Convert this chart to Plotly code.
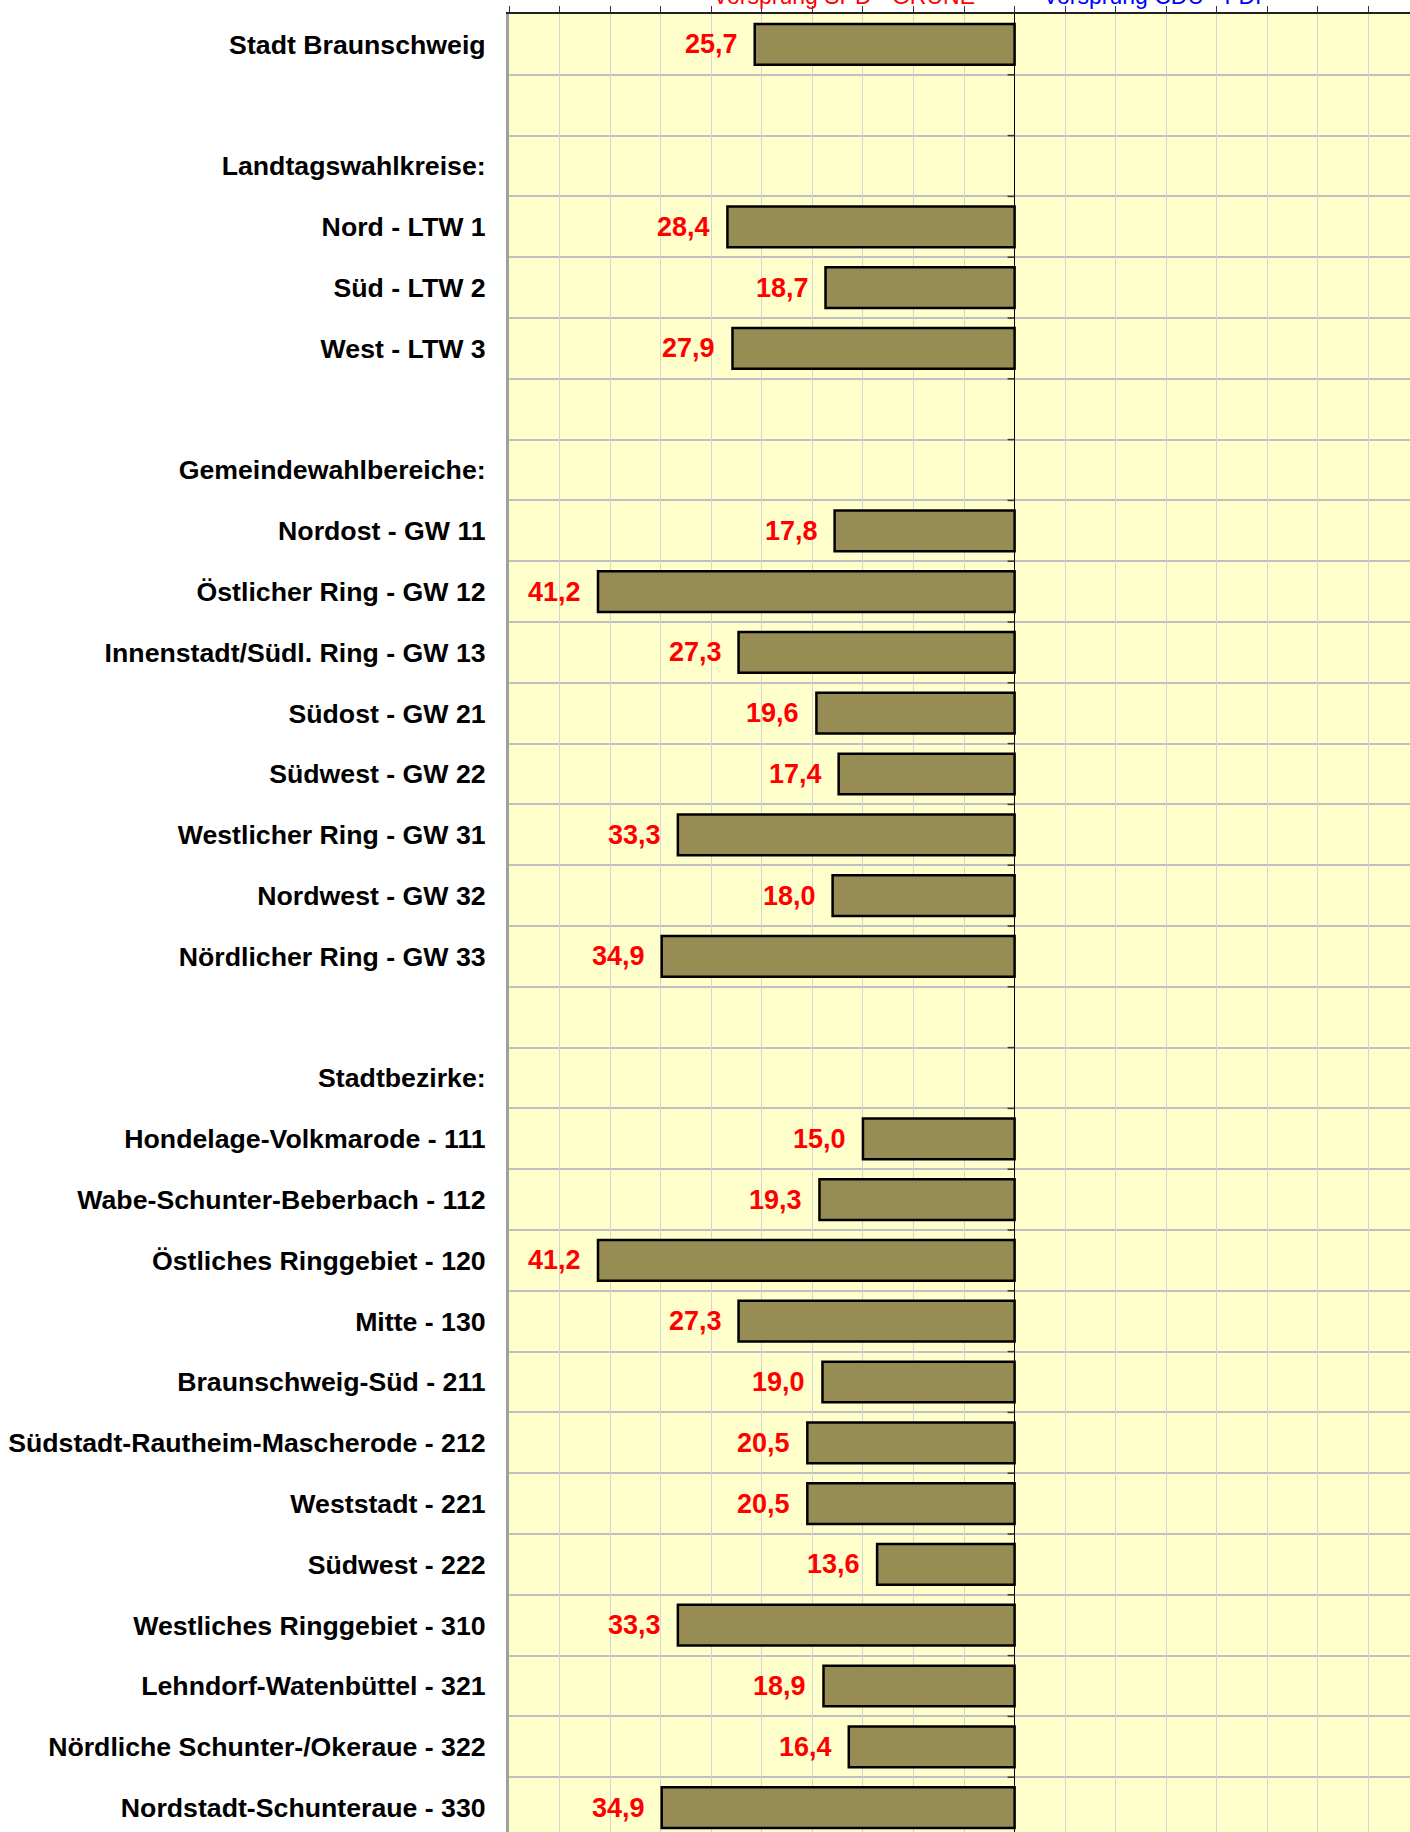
import plotly.graph_objects as go

# ---- data -------------------------------------------------------------
categories = [
    "Stadt Braunschweig", "", "Landtagswahlkreise:",
    "Nord - LTW 1", "Süd - LTW 2", "West - LTW 3", "",
    "Gemeindewahlbereiche:",
    "Nordost - GW 11", "Östlicher Ring - GW 12", "Innenstadt/Südl. Ring - GW 13",
    "Südost - GW 21", "Südwest - GW 22", "Westlicher Ring - GW 31",
    "Nordwest - GW 32", "Nördlicher Ring - GW 33", "",
    "Stadtbezirke:",
    "Hondelage-Volkmarode - 111", "Wabe-Schunter-Beberbach - 112",
    "Östliches Ringgebiet - 120", "Mitte - 130", "Braunschweig-Süd - 211",
    "Südstadt-Rautheim-Mascherode - 212", "Weststadt - 221", "Südwest - 222",
    "Westliches Ringgebiet - 310", "Lehndorf-Watenbüttel - 321",
    "Nördliche Schunter-/Okeraue - 322", "Nordstadt-Schunteraue - 330",
]
# Vorsprung (percentage points) – drawn to the left of zero
vorsprung = [
    25.7, None, None,
    28.4, 18.7, 27.9, None,
    None,
    17.8, 41.2, 27.3, 19.6, 17.4, 33.3, 18.0, 34.9, None,
    None,
    15.0, 19.3, 41.2, 27.3, 19.0, 20.5, 20.5, 13.6, 33.3, 18.9, 16.4, 34.9,
]
legend_left = "Vorsprung SPD - GRÜNE"
legend_right = "Vorsprung CDU - FDP"

# ---- figure -----------------------------------------------------------
W, H = 1410, 1832
LEFT = 509
TOP = 14
ROW_PX = 60.8
n = len(categories)
rows = list(range(n))
plot_h = H - TOP
y_bottom = -0.5 + plot_h / ROW_PX

FONT = "Liberation Sans, Arial, sans-serif"

xs = [(-v if v is not None else None) for v in vorsprung]

fig = go.Figure()
fig.add_trace(go.Bar(
    x=xs, y=rows, orientation="h", width=0.67,
    marker=dict(color="#968C54", line=dict(color="black", width=2.5)),
    hoverinfo="skip", showlegend=False,
))

annotations = []
for i, v in enumerate(vorsprung):
    if v is None:
        continue
    annotations.append(dict(
        x=-v, y=i, xref="x", yref="y", xanchor="right", yanchor="middle",
        xshift=-15, showarrow=False,
        text=f"{v:.1f}".replace(".", ","),
        font=dict(family=FONT, size=27, color="#FF0000", weight="bold"),
    ))

# clipped legend captions at the very top
for txt, xc, col in [(legend_left, 844, "#FF0000"), (legend_right, 1157, "#0000FF")]:
    annotations.append(dict(
        x=(xc - LEFT) / (W - LEFT), y=1 + 3 / plot_h, xref="paper", yref="paper",
        xanchor="center", yanchor="bottom", showarrow=False, text=txt,
        font=dict(family=FONT, size=23, color=col),
    ))

# small ticks on the zero line at the row boundaries
shapes = []
for i in range(n):
    shapes.append(dict(
        type="line", xref="x", yref="y", xsizemode="pixel", xanchor=0,
        x0=-7, x1=0, y0=i + 0.5, y1=i + 0.5,
        line=dict(color="#333333", width=1.5), layer="above",
    ))

fig.update_layout(
    width=W, height=H,
    margin=dict(l=LEFT, r=0, t=TOP, b=0, pad=0, autoexpand=False),
    paper_bgcolor="white", plot_bgcolor="#FFFFCC",
    bargap=0.33,
    annotations=annotations, shapes=shapes,
    font=dict(family=FONT),
)
fig.update_xaxes(
    range=[-50, 39.1], side="top", dtick=5, tick0=0, automargin=False,
    showticklabels=False, ticks="outside", ticklen=6, tickcolor="#333333", tickwidth=1,
    showline=True, linecolor="#222222", linewidth=2,
    showgrid=True, gridcolor="#D4D4D4", gridwidth=1,
    zeroline=True, zerolinecolor="#000000", zerolinewidth=1,
    fixedrange=True,
)
fig.update_yaxes(
    range=[y_bottom, -0.5], tickmode="array", tickvals=rows, ticktext=categories,
    tickfont=dict(family=FONT, size=26.7, color="black", weight="bold"),
    ticks="outside", ticklen=15, tickcolor="rgba(0,0,0,0)", automargin=False,
    showgrid=False, zeroline=False,
    showline=True, linecolor="#A0A0A0", linewidth=3,
    minor=dict(tickmode="array", tickvals=[i + 0.5 for i in rows],
               showgrid=True, gridcolor="#C0C0C0", gridwidth=2, ticks=""),
    fixedrange=True,
)

fig.write_html(
    "out.html",
    config={"displayModeBar": False},
    post_script="document.body.style.margin='0';document.body.style.overflow='hidden';",
)
